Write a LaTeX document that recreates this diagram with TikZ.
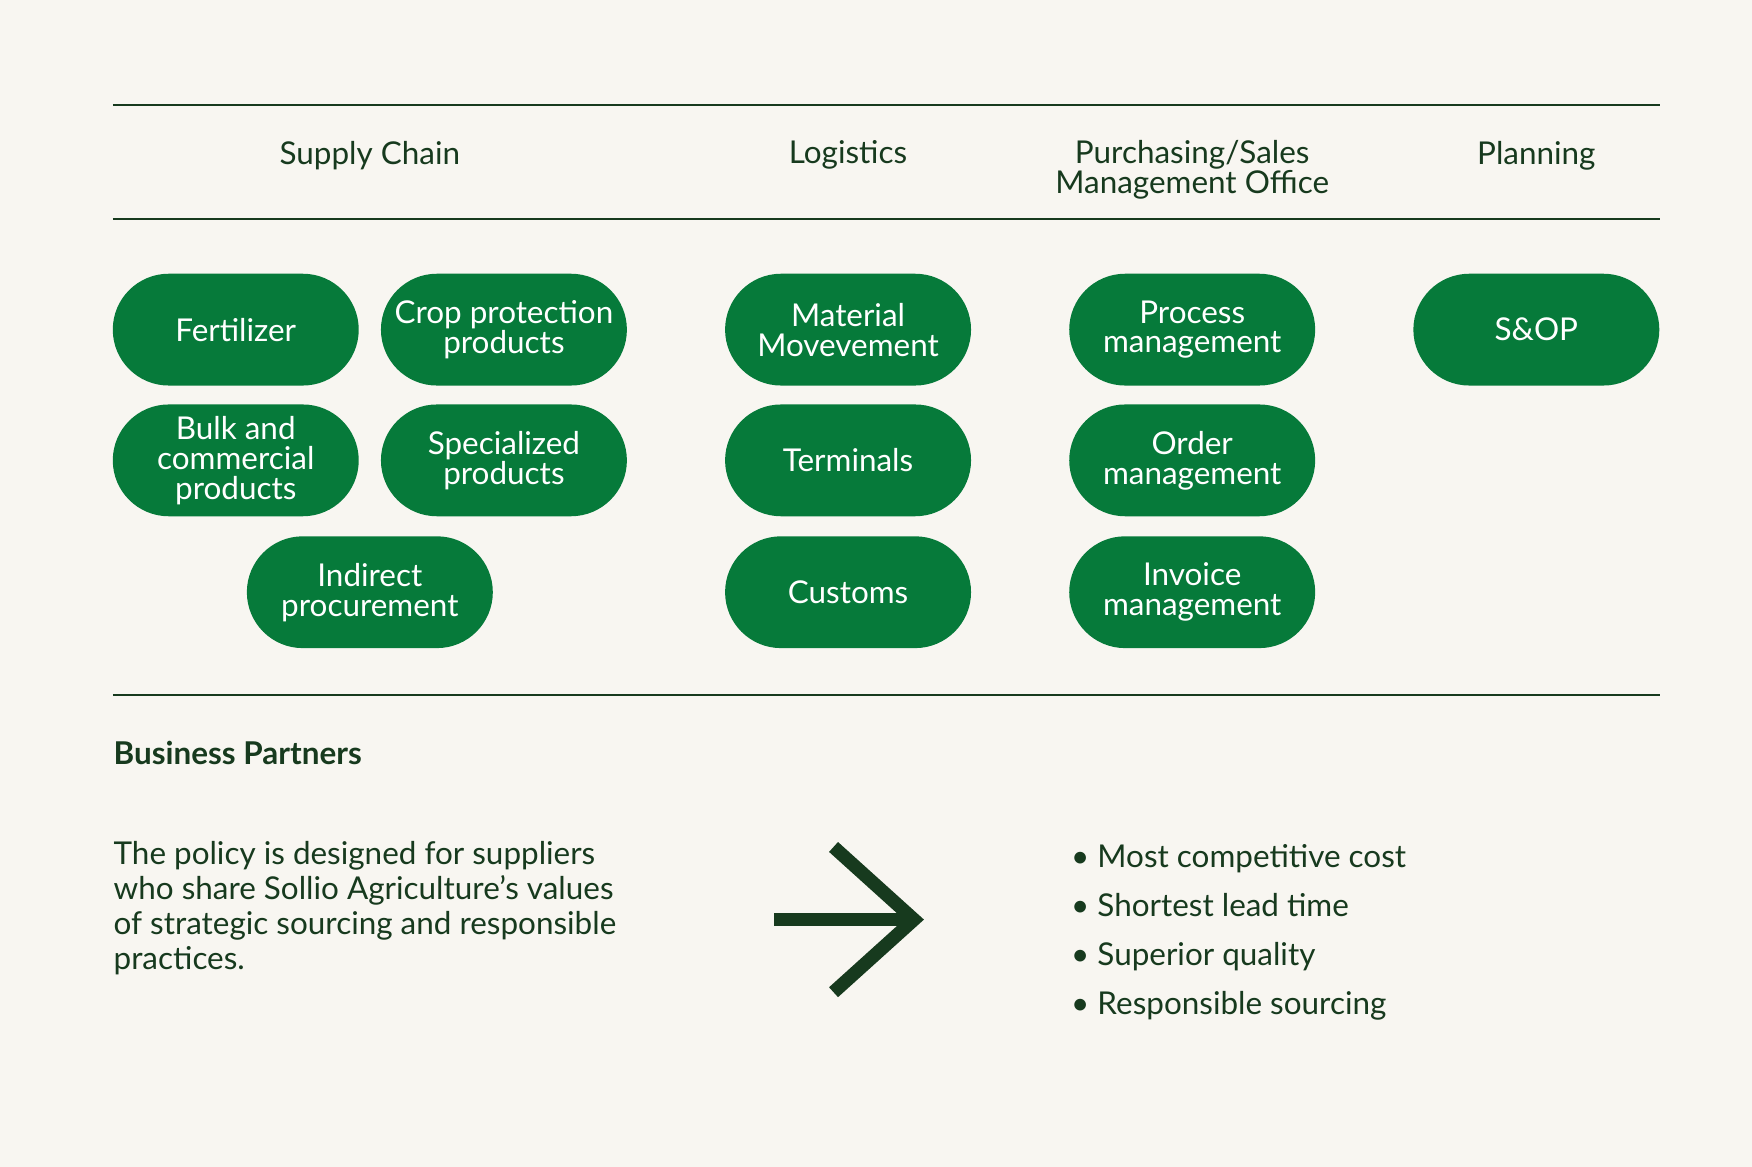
\documentclass[tikz,border=0pt]{standalone}
\usepackage{fontspec}
\setmainfont{Lato}
\usetikzlibrary{positioning}
\definecolor{bgcream}{HTML}{F8F6F1}
\definecolor{pillgreen}{HTML}{067A3A}
\definecolor{darkgreen}{HTML}{173A1E}
\begin{document}
\begin{tikzpicture}[x=0.01cm, y=-0.01cm]

	\tikzstyle{pill}=[rectangle, rounded corners=0.5cm, fill=pillgreen, text=white, minimum width=2.2cm, minimum height=1cm, inner sep=0pt, align=center, font=\fontsize{8}{7.6}\selectfont]
	\tikzstyle{head}=[text=darkgreen, align=center, font=\fontsize{8}{7.6}\selectfont]
	\tikzstyle{rule}=[darkgreen, line width=0.6pt]
	\tikzstyle{bul}=[text=darkgreen, anchor=base west, inner sep=0pt, font=\fontsize{8}{9}\selectfont]

	\fill[bgcream] (0,0) rectangle (1568,1044);
	\useasboundingbox (0,0) rectangle (1568,1044);

	\coordinate (r_1_a) at (101, 94);
	\coordinate (r_1_b) at (1486, 94);
	\coordinate (r_2_a) at (101, 196);
	\coordinate (r_2_b) at (1486, 196);
	\coordinate (r_3_a) at (101, 622);
	\coordinate (r_3_b) at (1486, 622);

	\draw[rule] (r_1_a) -- (r_1_b);
	\draw[rule] (r_2_a) -- (r_2_b);
	\draw[rule] (r_3_a) -- (r_3_b);

	\node[head] (h_1) at (331, 139) {Supply Chain};
	\node[head] (h_2) at (759, 139) {Logistics};
	\node[head] (h_3) at (1067, 152) {Purchasing/Sales\\Management Office};
	\node[head] (h_4) at (1375, 139) {Planning};

	\node[pill] (p_1_1) at (211, 295) {Fertilizer}; % SUPPLY CHAIN
	\node[pill] (p_1_2) at (451, 295) {Crop protection\\products}; % SUPPLY CHAIN
	\node[pill] (p_1_3) at (211, 412) {Bulk and\\commercial\\products}; % SUPPLY CHAIN
	\node[pill] (p_1_4) at (451, 412) {Specialized\\products}; % SUPPLY CHAIN
	\node[pill] (p_1_5) at (331, 530) {Indirect\\procurement}; % SUPPLY CHAIN
	\node[pill] (p_2_1) at (759, 295) {Material\\Movevement}; % LOGISTICS
	\node[pill] (p_2_2) at (759, 412) {Terminals}; % LOGISTICS
	\node[pill] (p_2_3) at (759, 530) {Customs}; % LOGISTICS
	\node[pill] (p_3_1) at (1067, 295) {Process\\management}; % PURCHASING
	\node[pill] (p_3_2) at (1067, 412) {Order\\management}; % PURCHASING
	\node[pill] (p_3_3) at (1067, 530) {Invoice\\management}; % PURCHASING
	\node[pill] (p_4_1) at (1375, 295) {S\&OP}; % PLANNING

	\node[bul, font=\fontsize{8}{9}\bfseries\selectfont] (bp) at (101, 684) {Business Partners};

	\node[bul, anchor=north west, align=left, font=\fontsize{8}{8.9}\selectfont] (txt) at (101, 752) {The policy is designed for suppliers\\who share Sollio Agriculture’s values\\of strategic sourcing and responsible\\practices.};

	\coordinate (a_s) at (693, 823);
	\coordinate (a_t) at (818, 823);
	\coordinate (a_u) at (746, 758);
	\coordinate (a_d) at (746, 888);
	\draw[darkgreen, line width=3.4pt] (a_s) -- (a_t);
	\draw[darkgreen, line width=3.4pt, line join=miter] (a_u) -- (a_t) -- (a_d);

	\node[bul] (b_1) at (958, 776) {\textbullet\ Most competitive cost};
	\node[bul] (b_2) at (958, 820) {\textbullet\ Shortest lead time};
	\node[bul] (b_3) at (958, 864) {\textbullet\ Superior quality};
	\node[bul] (b_4) at (958, 908) {\textbullet\ Responsible sourcing};

\end{tikzpicture}
\end{document}
